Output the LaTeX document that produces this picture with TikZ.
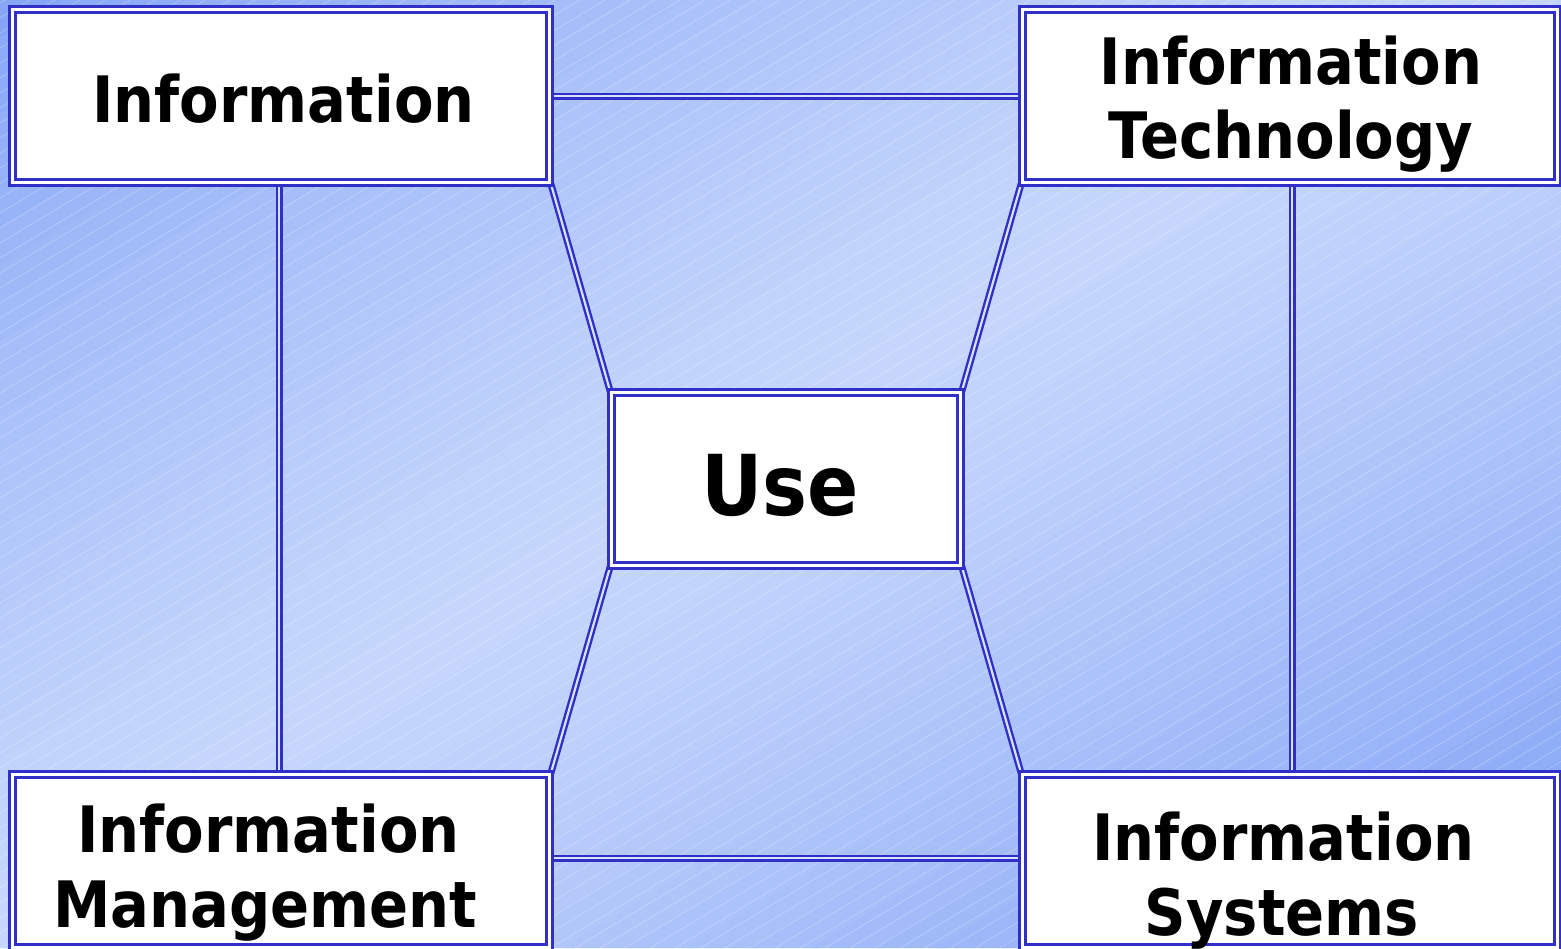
\documentclass[tikz,border=0pt]{standalone}
\usepackage{fontspec}
\newfontfamily\lab[FakeStretch=0.9]{DejaVu Sans}
\pgfdeclarelayer{back}
\pgfdeclarelayer{lines}
\pgfsetlayers{back,lines,main}
\definecolor{bgdark}{HTML}{86A6F6}
\definecolor{bglight}{HTML}{C6D6FC}
\definecolor{edge}{HTML}{3030C8}
\definecolor{gapc}{HTML}{D8E2FD}
\tikzset{
  box/.style={draw=edge, line width=2.8pt, double=white, double distance=2.6pt,
    fill=white, inner sep=0pt, minimum height=173pt},
  conn/.style={draw=edge, line width=2.4pt, double=gapc, double distance=2.2pt},
  lbl/.style={font=\lab\bfseries\fontsize{64}{74}\selectfont, anchor=base, inner sep=0pt},
  biglbl/.style={font=\lab\bfseries\fontsize{84}{94}\selectfont, anchor=base, inner sep=0pt},
  hatch/.style={white, opacity=0.3, line width=0.6pt}
}
\begin{document}
\begin{tikzpicture}[x=1pt,y=-1pt]
\useasboundingbox (0,0) rectangle (1561,948);
\begin{pgfonlayer}{back}
  \begin{scope}
    \clip (0,0) rectangle (1561,948);
    \begin{scope}[x=1561pt,y=-948pt]
      \foreach \k in {0,...,49} {
        \pgfmathsetmacro{\a}{\k*0.04}
        \pgfmathsetmacro{\b}{\a+0.045}
        \pgfmathsetmacro{\d}{abs(\a+0.02-0.95)/0.95}
        \pgfmathsetmacro{\q}{max(0,1-(\d)^1.3)}
        \pgfmathtruncatemacro{\p}{100*\q}
        \fill[bglight!\p!bgdark] (\a,0) -- (\b,0) -- (\b-1,1) -- (\a-1,1) -- cycle;
      }
    \end{scope}
    \foreach \i in {-1600,-1575,...,1580} {
      \draw[hatch] (\i,948) -- ++(1580,-948);
    }
  \end{scope}
\end{pgfonlayer}

\node[box, minimum width=537pt] (info) at (281,96) {};
\node[box, minimum width=535pt] (it) at (1290,96) {};
\node[box, minimum width=349pt] (use) at (786,479) {};
\node[box, minimum width=537pt] (im) at (281,861) {};
\node[box, minimum width=535pt] (is) at (1290,861) {};

\begin{pgfonlayer}{lines}
  \draw[conn] (info.east) -- (it.west);
  \draw[conn] ([yshift=3pt]im.east) -- ([yshift=3pt]is.west);
  \draw[conn] ([xshift=-2pt]info.south) -- ([xshift=-2pt]im.north);
  \draw[conn] ([xshift=2pt]it.south) -- ([xshift=2pt]is.north);
  \draw[conn] (info.south east) -- (use.north west);
  \draw[conn] (it.south west) -- (use.north east);
  \draw[conn] (use.south west) -- (im.north east);
  \draw[conn] (use.south east) -- (is.north west);
\end{pgfonlayer}

\node[lbl] (infoT) at (283.5,122) {Information};
\node[lbl] (itT1) at (1291,84) {Information};
\node[lbl] (itT2) at (1291,158) {Technology};
\node[biglbl] (useT) at (780,515) {Use};
\node[lbl] (imT1) at (268.5,852) {Information};
\node[lbl] (imT2) at (265,927) {Management};
\node[lbl] (isT1) at (1283.5,860) {Information};
\node[lbl] (isT2) at (1282,935) {Systems};
\end{tikzpicture}
\end{document}
